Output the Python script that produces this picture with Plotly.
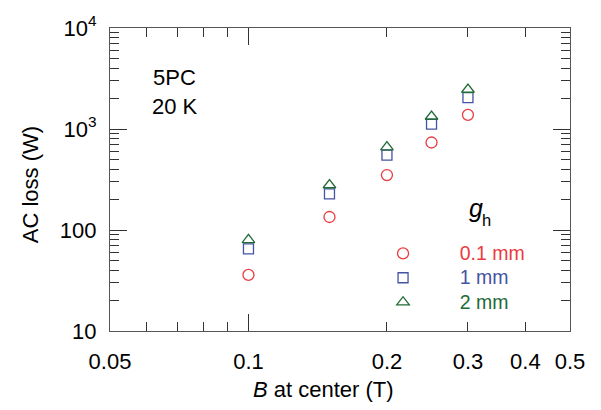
import plotly.graph_objects as go
import math

B = [0.1, 0.15, 0.2, 0.25, 0.3]
loss_g01 = [35.9, 134.5, 350, 735, 1382]
loss_g1 = [65, 228, 552, 1118, 2041]
loss_g2 = [80, 279, 661, 1330, 2460]

series_labels = ["0.1 mm", "1 mm", "2 mm"]
x_tickvals = [0.05, 0.1, 0.2, 0.3, 0.4, 0.5]
x_ticktext = ["0.05", "0.1", "0.2", "0.3", "0.4", "0.5"]
x_minor = [0.06, 0.07, 0.08, 0.09]
x_major = [0.1]
y_tickvals = [10, 100, 1000, 10000]
y_ticktext = ["10", "100", "10<sup>3</sup>", "10<sup>4</sup>"]
y_minor = [m * d for d in (10, 100, 1000) for m in range(2, 10)]

RED = "#ec3a3f"
BLUE = "#4453a3"
GREEN = "#226b36"
FONT = "Liberation Sans, Arial, sans-serif"
AXC = "#555555"


def lab(text, color):
    return '<span style="font-size:19.5px;fill:%s">%s</span>' % (color, text)


fig = go.Figure()
fig.add_trace(go.Scatter(x=B, y=loss_g01, mode="markers", name=lab(series_labels[0], RED),
                         marker=dict(symbol="circle-open", size=11, color=RED, line=dict(width=1.3))))
fig.add_trace(go.Scatter(x=B, y=loss_g1, mode="markers", name=lab(series_labels[1], BLUE),
                         marker=dict(symbol="square-open", size=10, color=BLUE, line=dict(width=1.3))))
fig.add_trace(go.Scatter(x=B, y=loss_g2, mode="markers", name=lab(series_labels[2], GREEN),
                         marker=dict(symbol="triangle-up-open", size=11, color=GREEN, line=dict(width=1.3))))
fig.add_trace(go.Scatter(x=[], y=[], xaxis="x2", yaxis="y", showlegend=False, hoverinfo="skip"))

W, H = 601, 410
L, R, T, Bm = 110, 30.5, 24.5, 79
pw, ph = W - L - R, H - T - Bm


def px(xp):
    return (xp - L) / pw


def py(yp):
    return (H - Bm - yp) / ph


xr = [math.log10(0.05), math.log10(0.5)]
yr = [1, 4]

common = dict(showgrid=False, zeroline=False, showline=True, linecolor=AXC, linewidth=1.3,
              mirror="ticks", ticks="inside", tickcolor="#333333", tickwidth=1.2)

fig.update_layout(
    width=W, height=H,
    margin=dict(l=L, r=R, t=T, b=Bm, pad=0),
    paper_bgcolor="white", plot_bgcolor="white",
    font=dict(family=FONT, size=22, color="black"),
    showlegend=True,
    legend=dict(x=px(346.6), y=py(235), xanchor="left", yanchor="top",
                bgcolor="rgba(0,0,0,0)", borderwidth=0, font=dict(size=16.5),
                itemwidth=103.4, tracegroupgap=0),
    xaxis=dict(type="log", range=xr, tickmode="array", tickvals=x_tickvals, ticktext=x_ticktext,
               ticklen=9, ticklabelstandoff=10,
               minor=dict(tickmode="array", tickvals=x_minor, ticks="inside", ticklen=9,
                          tickcolor="#333333", tickwidth=1.2),
               **common),
    xaxis2=dict(type="log", range=xr, overlaying="x", anchor="y", side="bottom",
                tickmode="array", tickvals=x_major, ticklen=17, showticklabels=False,
                **common),
    yaxis=dict(type="log", range=yr, tickmode="array", tickvals=y_tickvals, ticktext=y_ticktext,
               ticklen=17, ticklabelstandoff=8,
               minor=dict(tickmode="array", tickvals=y_minor, ticks="inside", ticklen=9,
                          tickcolor="#333333", tickwidth=1.2),
               **common),
)

ann = [
    dict(text="5PC", x=px(151), y=py(75), xanchor="left", yanchor="middle"),
    dict(text="20 K", x=px(150), y=py(104), xanchor="left", yanchor="middle"),
    dict(text="<i>g</i>", x=px(467), y=py(207), xanchor="left", yanchor="middle",
         font=dict(size=25)),
    dict(text="h", x=px(480.5), y=py(219), xanchor="left", yanchor="middle",
         font=dict(size=16.5)),
    dict(text="<i>B</i> at center (T)", x=px(324), y=py(390), xanchor="center", yanchor="middle"),
    dict(text="AC loss (W)", x=px(30), y=py(183.5), xanchor="center", yanchor="middle", textangle=-90),
]
for a in ann:
    a.update(xref="paper", yref="paper", showarrow=False)
    fig.add_annotation(**a)

fig.write_html("out.html")
